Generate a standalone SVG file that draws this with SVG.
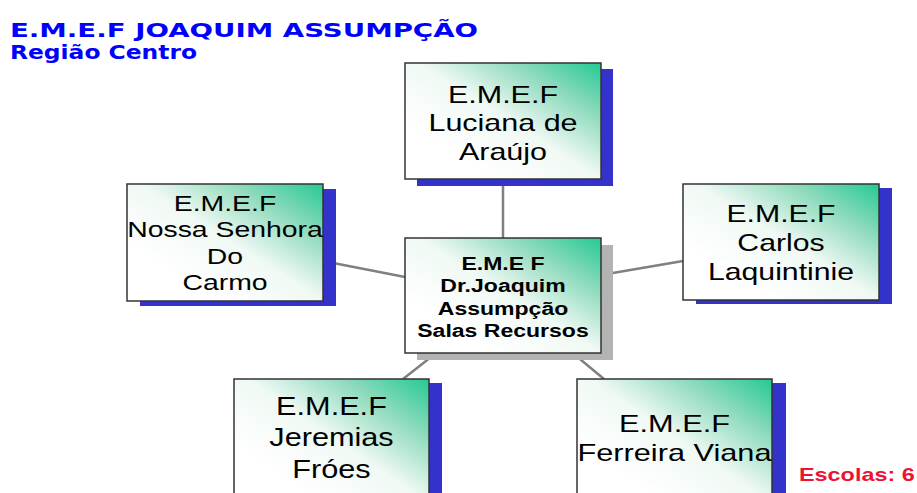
<svg xmlns="http://www.w3.org/2000/svg" width="917" height="493" viewBox="0 0 917 493">
<defs>
<linearGradient id="fillG" x1="1" y1="0" x2="0.2" y2="0.75">
<stop offset="0" stop-color="#25c994"/>
<stop offset="0.3" stop-color="#8fdbbd"/>
<stop offset="0.62" stop-color="#f0f9f4"/>
<stop offset="1" stop-color="#ffffff"/>
</linearGradient>
<style>
.box{fill:url(#fillG);stroke:#333;stroke-width:1.5}
.shb{fill:#3333cc}
.shg{fill:#b3b3b3}
.lbl{font-family:"Liberation Sans",Arial,sans-serif;fill:#000;text-anchor:middle}
.bold{font-weight:bold}
.conn line{stroke:#808080;stroke-width:2.5}
.title{font-family:"DejaVu Sans",sans-serif;font-weight:bold;fill:#0000ff}
</style>
</defs>
<rect width="917" height="493" fill="#fff"/>
<text class="title" x="10" y="37" font-size="20" textLength="468" lengthAdjust="spacingAndGlyphs">E.M.E.F JOAQUIM ASSUMPÇÃO</text>
<text class="title" x="10" y="58.5" font-size="19" textLength="187" lengthAdjust="spacingAndGlyphs">Região Centro</text>
<g id="connectors" class="conn">
<line x1="503" y1="179" x2="503" y2="238"/>
<line x1="323" y1="261" x2="405" y2="277"/>
<line x1="601" y1="275" x2="683" y2="261"/>
<line x1="440" y1="350" x2="403" y2="379"/>
<line x1="569" y1="350" x2="604" y2="379"/>
</g>
<g id="node-luciana">
<rect class="shb" x="417" y="69" width="196" height="117"/>
<rect class="box" x="405" y="63" width="196" height="116"/>
<text class="lbl" font-size="24" transform="translate(503,0) scale(1.27,1)"><tspan x="0" y="103">E.M.E.F</tspan><tspan x="0" y="131.5">Luciana de</tspan><tspan x="0" y="160">Araújo</tspan></text>
</g>
<g id="node-nossa-senhora">
<rect class="shb" x="140" y="189" width="196" height="117"/>
<rect class="box" x="127" y="184" width="196" height="117"/>
<text class="lbl" font-size="22" transform="translate(225,0) scale(1.29,1)"><tspan x="0" y="211">E.M.E.F</tspan><tspan x="0" y="237.5">Nossa Senhora</tspan><tspan x="0" y="264">Do</tspan><tspan x="0" y="290.5">Carmo</tspan></text>
</g>
<g id="node-carlos">
<rect class="shb" x="696" y="188" width="196" height="116"/>
<rect class="box" x="683" y="184" width="196" height="116"/>
<text class="lbl" font-size="24" transform="translate(781,0) scale(1.26,1)"><tspan x="0" y="222">E.M.E.F</tspan><tspan x="0" y="251">Carlos</tspan><tspan x="0" y="280">Laquintinie</tspan></text>
</g>
<g id="node-center">
<rect class="shg" x="417" y="245" width="196" height="115"/>
<rect class="box" x="405" y="238" width="196" height="115"/>
<text class="lbl bold" font-size="18" transform="translate(503,0) scale(1.28,1)"><tspan x="0" y="270.5">E.M.E F</tspan><tspan x="0" y="292.5">Dr.Joaquim</tspan><tspan x="0" y="315">Assumpção</tspan><tspan x="0" y="337">Salas Recursos</tspan></text>
</g>
<g id="node-jeremias">
<rect class="shb" x="247" y="383" width="195" height="120"/>
<rect class="box" x="234" y="379" width="195" height="125"/>
<text class="lbl" font-size="26" transform="translate(331.5,0) scale(1.18,1)"><tspan x="0" y="415">E.M.E.F</tspan><tspan x="0" y="446">Jeremias</tspan><tspan x="0" y="478">Fróes</tspan></text>
</g>
<g id="node-ferreira">
<rect class="shb" x="590" y="383" width="196" height="120"/>
<rect class="box" x="577" y="379" width="195" height="125"/>
<text class="lbl" font-size="24" transform="translate(674.5,0) scale(1.28,1)"><tspan x="0" y="432">E.M.E.F</tspan><tspan x="0" y="461">Ferreira Viana</tspan></text>
</g>
<text font-family="Liberation Sans, Arial, sans-serif" font-weight="bold" font-size="18" fill="#ee1133" transform="translate(799,0) scale(1.3,1)" x="0" y="481">Escolas: 6</text>
</svg>
